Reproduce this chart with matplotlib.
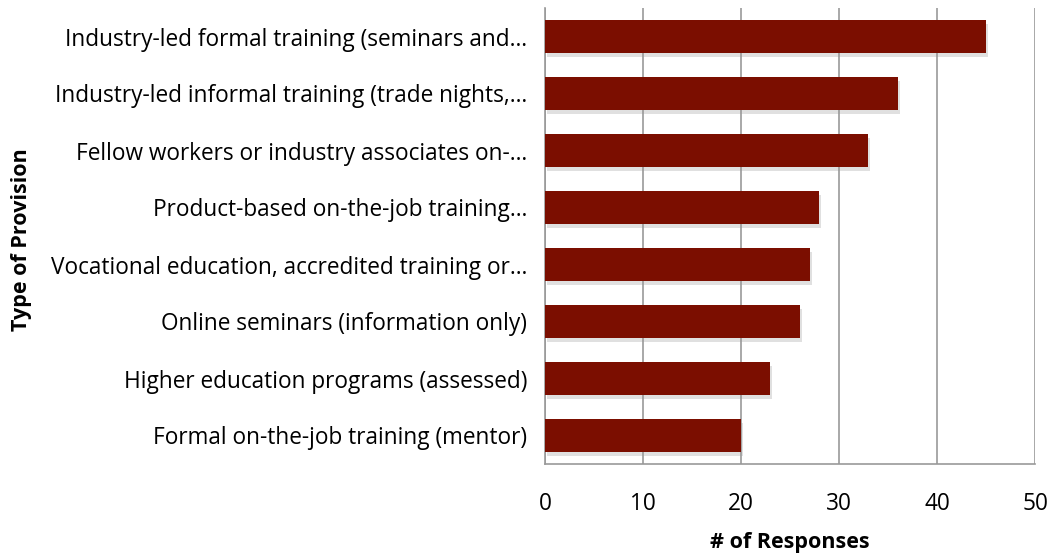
import matplotlib
matplotlib.use("Agg")
import matplotlib.pyplot as plt
import matplotlib.patheffects as pe

categories = [
    "Industry-led formal training (seminars and…",
    "Industry-led informal training (trade nights,…",
    "Fellow workers or industry associates on-…",
    "Product-based on-the-job training…",
    "Vocational education, accredited training or…",
    "Online seminars (information only)",
    "Higher education programs (assessed)",
    "Formal on-the-job training (mentor)",
]
values = [45, 36, 33, 28, 27, 26, 23, 20]
xticks = [0, 10, 20, 30, 40, 50]

plt.rcParams['font.family'] = ['Open Sans', 'DejaVu Sans']

fig = plt.figure(figsize=(10.51, 5.53), dpi=100)
ax = fig.add_axes([545/1051, 1-464/553, 490/1051, 456/553])

ypos = list(range(len(categories)))
bars = ax.barh(ypos, values, height=0.58, color="#7B0E00", zorder=3,
               path_effects=[pe.SimplePatchShadow(offset=(1.5, -3), shadow_rgbFace="#999999", alpha=0.3),
                             pe.Normal()])
ax.set_ylim(len(categories) - 0.5, -0.5)
ax.set_xlim(0, 50)
ax.set_xticks(xticks)
ax.set_yticks(ypos)
ax.set_yticklabels(categories, fontsize=16.3)
ax.tick_params(axis='x', labelsize=16.3, length=0, pad=20)
ax.tick_params(axis='y', length=0, pad=13)
ax.grid(axis='x', color="#999999", linewidth=1.2, zorder=0)
for s in ['top', 'right']:
    ax.spines[s].set_visible(False)
for s in ['left', 'bottom']:
    ax.spines[s].set_color("#999999")
    ax.spines[s].set_linewidth(1.2)
ax.set_xlabel("# of Responses", fontsize=15.5, fontweight='bold', labelpad=12)
fig.text(22/1051, 1-240/553, "Type of Provision", rotation=90, fontsize=15.5,
         fontweight='bold', ha='center', va='center')

fig.savefig("out.png", dpi=100)
